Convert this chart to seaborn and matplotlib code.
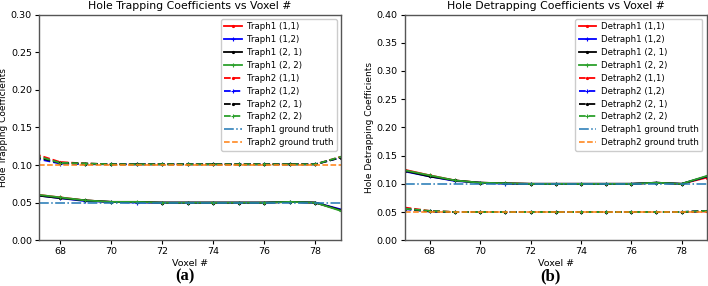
import numpy as np
import pandas as pd
import seaborn as sns
import matplotlib.pyplot as plt

# Voxel index
voxels = list(range(67, 80))

# Hole trapping coefficients (panel a)
traph1_11 = [0.061, 0.057, 0.053, 0.051, 0.051, 0.050, 0.050, 0.050, 0.050, 0.050, 0.051, 0.050, 0.040]
traph1_12 = [0.060, 0.056, 0.052, 0.051, 0.050, 0.050, 0.050, 0.050, 0.050, 0.050, 0.051, 0.050, 0.041]
traph1_21 = [0.060, 0.056, 0.053, 0.051, 0.051, 0.050, 0.050, 0.050, 0.050, 0.050, 0.051, 0.050, 0.040]
traph1_22 = [0.061, 0.057, 0.053, 0.051, 0.051, 0.050, 0.050, 0.050, 0.050, 0.050, 0.051, 0.050, 0.039]
traph2_11 = [0.115, 0.104, 0.102, 0.101, 0.101, 0.101, 0.101, 0.101, 0.101, 0.101, 0.101, 0.101, 0.111]
traph2_12 = [0.109, 0.102, 0.101, 0.101, 0.101, 0.101, 0.101, 0.101, 0.101, 0.101, 0.101, 0.101, 0.110]
traph2_21 = [0.111, 0.103, 0.102, 0.101, 0.101, 0.101, 0.101, 0.101, 0.101, 0.101, 0.101, 0.101, 0.110]
traph2_22 = [0.113, 0.103, 0.102, 0.101, 0.101, 0.101, 0.101, 0.101, 0.101, 0.101, 0.101, 0.101, 0.111]
traph1_truth = 0.05
traph2_truth = 0.10

# Hole detrapping coefficients (panel b)
detraph1_11 = [0.125, 0.115, 0.106, 0.102, 0.101, 0.100, 0.100, 0.100, 0.100, 0.100, 0.102, 0.100, 0.111]
detraph1_12 = [0.122, 0.113, 0.105, 0.102, 0.100, 0.100, 0.100, 0.100, 0.100, 0.100, 0.102, 0.100, 0.113]
detraph1_21 = [0.123, 0.113, 0.106, 0.102, 0.101, 0.100, 0.100, 0.100, 0.100, 0.100, 0.102, 0.100, 0.113]
detraph1_22 = [0.124, 0.115, 0.106, 0.102, 0.101, 0.100, 0.100, 0.100, 0.100, 0.100, 0.102, 0.100, 0.114]
detraph2_11 = [0.058, 0.052, 0.050, 0.050, 0.050, 0.050, 0.050, 0.050, 0.050, 0.050, 0.050, 0.050, 0.051]
detraph2_12 = [0.055, 0.051, 0.050, 0.050, 0.050, 0.050, 0.050, 0.050, 0.050, 0.050, 0.050, 0.050, 0.052]
detraph2_21 = [0.056, 0.051, 0.050, 0.050, 0.050, 0.050, 0.050, 0.050, 0.050, 0.050, 0.050, 0.050, 0.052]
detraph2_22 = [0.056, 0.052, 0.050, 0.050, 0.050, 0.050, 0.050, 0.050, 0.050, 0.050, 0.050, 0.050, 0.052]
detraph1_truth = 0.10
detraph2_truth = 0.05

# Line styles for the (i, j) combinations
styles = [('(1,1)', 'red', '.'), ('(1,2)', 'blue', '+'),
          ('(2, 1)', 'black', '.'), ('(2, 2)', 'tab:green', '+')]


def draw_panel(ax, name1, name2, s1, s2, truth1, truth2, title, ylabel, ymax, xmin):
    for (tag, color, mk), ys in zip(styles, s1):
        sns.lineplot(x=voxels, y=ys, ax=ax, color=color, marker=mk, markersize=3,
                     markeredgecolor=color, markeredgewidth=0.8, linewidth=1.3,
                     label=f'{name1} {tag}')
    for (tag, color, mk), ys in zip(styles, s2):
        sns.lineplot(x=voxels, y=ys, ax=ax, color=color, marker=mk, markersize=3,
                     markeredgecolor=color, markeredgewidth=0.8, linewidth=1.3,
                     linestyle='--', label=f'{name2} {tag}')
    ax.axhline(truth1, color='tab:blue', linestyle='-.', linewidth=1.1,
               label=f'{name1} ground truth')
    ax.axhline(truth2, color='tab:orange', linestyle='--', linewidth=1.1,
               label=f'{name2} ground truth')
    ax.set_xlim(xmin, 79)
    ax.set_ylim(0, ymax)
    ax.set_xticks([68, 70, 72, 74, 76, 78])
    ax.set_title(title, fontsize=7.8, pad=4)
    ax.set_xlabel('Voxel #', fontsize=6.8, labelpad=2)
    ax.set_ylabel(ylabel, fontsize=6.5, labelpad=2)
    ax.tick_params(labelsize=6.8, length=3, pad=2)
    for sp in ax.spines.values():
        sp.set_edgecolor('#555555')
        sp.set_linewidth(1.0)
    ax.legend(loc='upper right', fontsize=6.2, labelspacing=0.45, handlelength=2.0,
              borderpad=0.4, handletextpad=0.6, framealpha=1)


fig = plt.figure(figsize=(7.08, 2.86), dpi=100)
ax1 = fig.add_axes([0.055, 0.160, 0.4266, 0.789])
ax2 = fig.add_axes([0.5716, 0.160, 0.4266, 0.789])

draw_panel(ax1, 'Traph1', 'Traph2',
           [traph1_11, traph1_12, traph1_21, traph1_22],
           [traph2_11, traph2_12, traph2_21, traph2_22],
           traph1_truth, traph2_truth,
           'Hole Trapping Coefficients vs Voxel #', 'Hole Trapping Coefficients',
           0.30, 67.18)
draw_panel(ax2, 'Detraph1', 'Detraph2',
           [detraph1_11, detraph1_12, detraph1_21, detraph1_22],
           [detraph2_11, detraph2_12, detraph2_21, detraph2_22],
           detraph1_truth, detraph2_truth,
           'Hole Detrapping Coefficients vs Voxel #', 'Hole Detrapping Coefficients',
           0.40, 67.0)

fig.text(0.261, 0.033, '(a)', ha='center', va='center', fontsize=12,
         fontweight='bold', family='Liberation Serif')
fig.text(0.778, 0.033, '(b)', ha='center', va='center', fontsize=12,
         fontweight='bold', family='Liberation Serif')

fig.savefig('out.png', dpi=100)
